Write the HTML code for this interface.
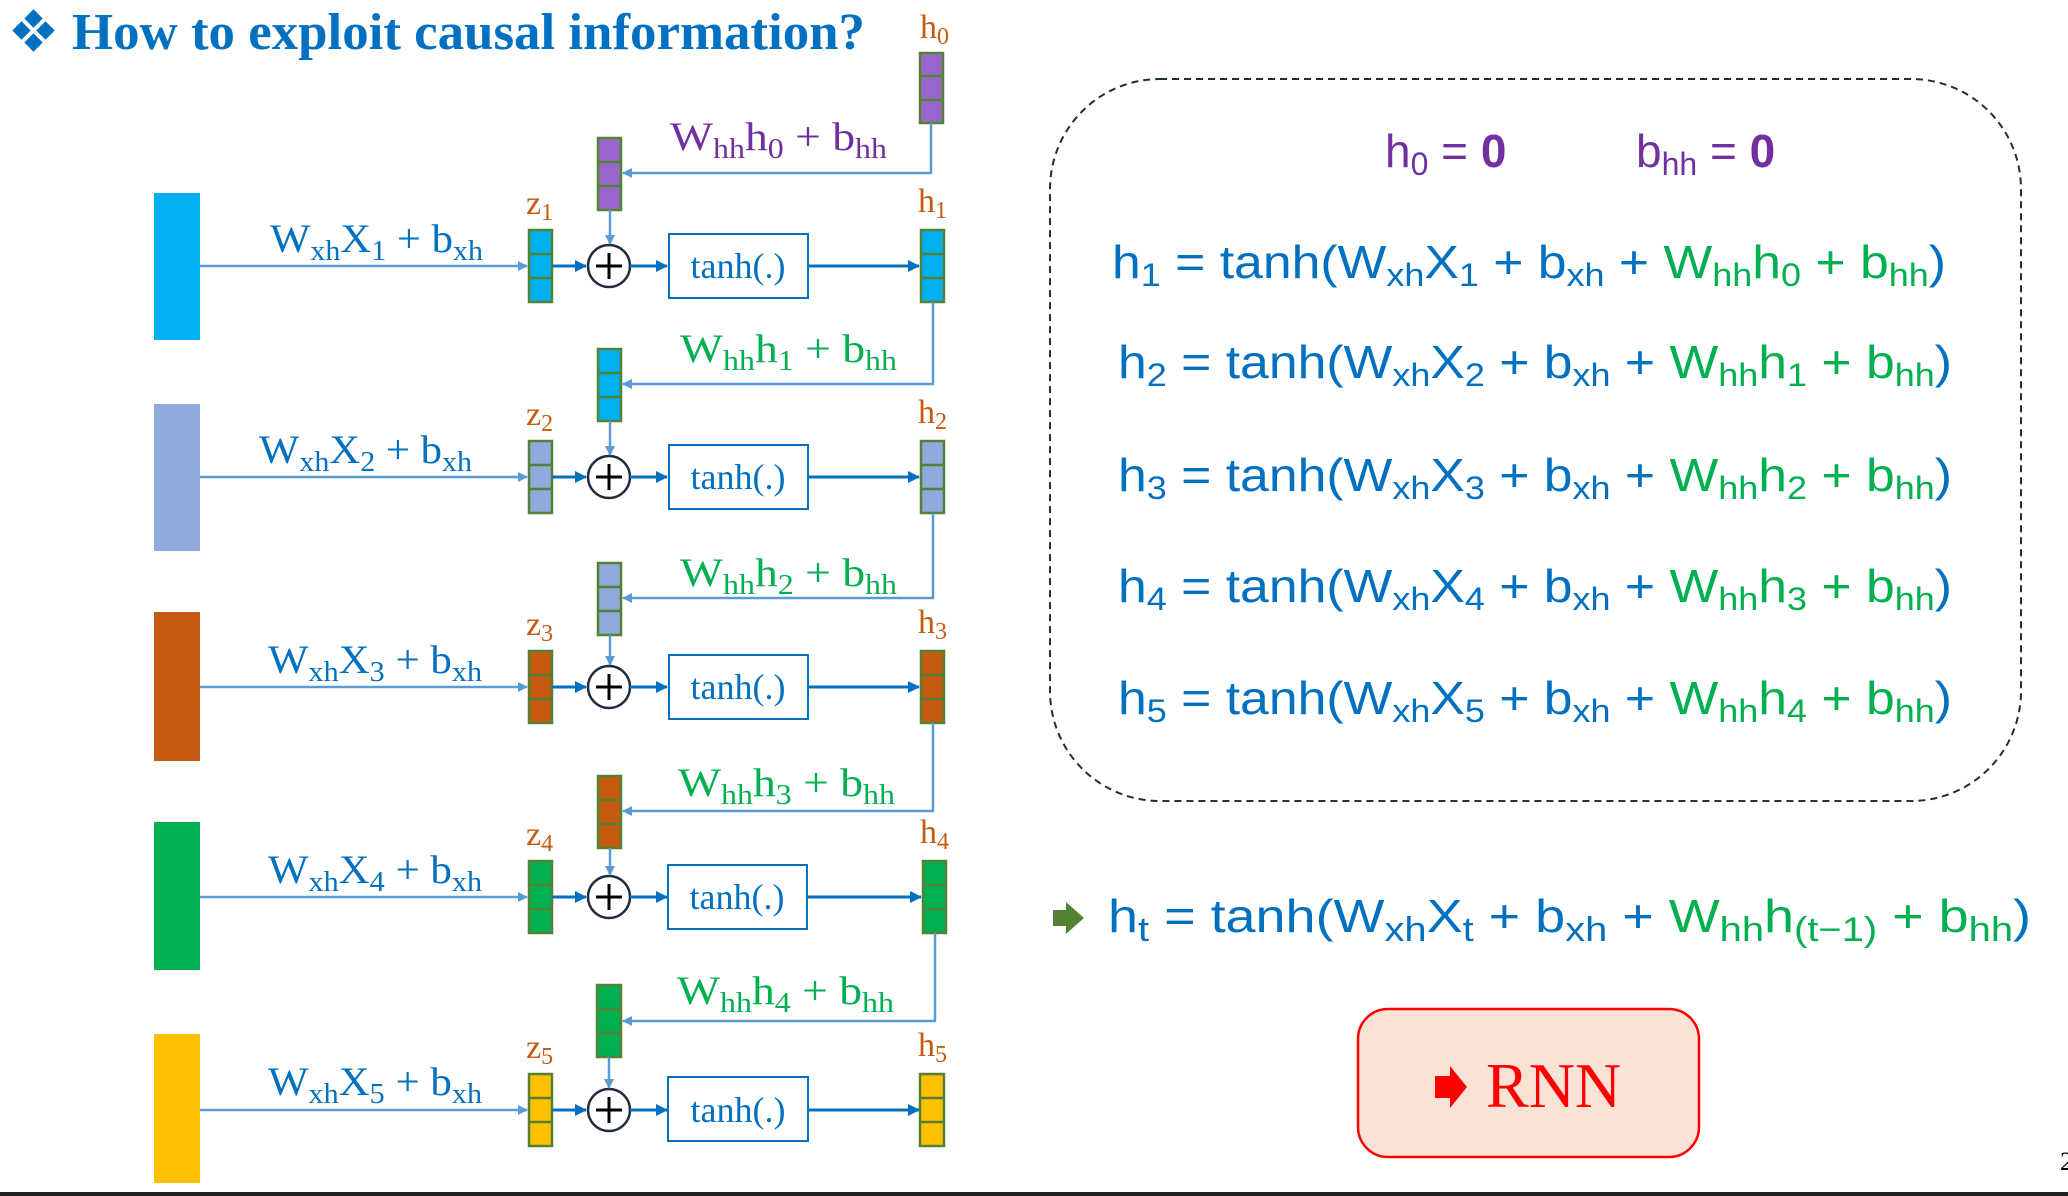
<!DOCTYPE html>
<html><head><meta charset="utf-8"><style>
html,body{margin:0;padding:0;background:#fff;}
svg{display:block;}
text{font-family:"Liberation Serif",serif;}
.eq{font-family:"Liberation Sans",sans-serif;font-size:46px;}
</style></head><body>
<svg width="2068" height="1196" viewBox="0 0 2068 1196" xmlns="http://www.w3.org/2000/svg">
<defs>
<marker id="al" markerWidth="10" markerHeight="10" refX="9" refY="5" orient="auto" markerUnits="userSpaceOnUse"><path d="M0,0 L10,5 L0,10 z" fill="#5b9bd5"/></marker>
<marker id="ad" markerWidth="12" markerHeight="12" refX="11" refY="6" orient="auto" markerUnits="userSpaceOnUse"><path d="M0,0 L12,6 L0,12 z" fill="#0070c0"/></marker>
</defs>

<!-- Title -->
<g fill="#0070c0">
<rect x="27" y="12" width="13" height="13" transform="rotate(45 33.5 18.5)"/>
<rect x="15" y="24" width="13" height="13" transform="rotate(45 21.5 30.5)"/>
<rect x="39" y="24" width="13" height="13" transform="rotate(45 45.5 30.5)"/>
<rect x="27" y="36" width="13" height="13" transform="rotate(45 33.5 42.5)"/>
</g>
<text x="72" y="49" font-size="52" font-weight="bold" fill="#0070c0" textLength="793" lengthAdjust="spacingAndGlyphs">How to exploit causal information?</text>

<!-- h0 -->
<text x="920" y="38" font-size="34" fill="#c55a11">h<tspan font-size="24" dy="6">0</tspan></text>
<g stroke="#548235" stroke-width="2.5" fill="#9966cc">
<rect x="920" y="53" width="23" height="70"/><line x1="920" y1="76" x2="943" y2="76"/><line x1="920" y1="100" x2="943" y2="100"/>
</g>

<!-- Row 1 Y=266 -->
<g>
<rect x="154" y="193" width="46" height="147" fill="#00b0f0"/>
<line x1="200" y1="266" x2="527" y2="266" stroke="#5b9bd5" stroke-width="2.5" marker-end="url(#al)"/>
<text x="270" y="252" font-size="40" fill="#0070c0" textLength="213" lengthAdjust="spacingAndGlyphs">W<tspan font-size="28" dy="8">xh</tspan><tspan dy="-8">X</tspan><tspan font-size="28" dy="8">1</tspan><tspan dy="-8"> + b</tspan><tspan font-size="28" dy="8">xh</tspan></text>
<text x="526" y="214" font-size="34" fill="#c55a11">z<tspan font-size="24" dy="6">1</tspan></text>
<g stroke="#548235" stroke-width="2.5" fill="#00b0f0"><rect x="529" y="230" width="23" height="72"/><line x1="529" y1="254" x2="552" y2="254"/><line x1="529" y1="278" x2="552" y2="278"/></g>
<line x1="552" y1="266" x2="586" y2="266" stroke="#0070c0" stroke-width="3" marker-end="url(#ad)"/>
<circle cx="609" cy="266" r="21" fill="#fff" stroke="#1f2d3d" stroke-width="2.5"/>
<path d="M596,266 H622 M609,253 V279" stroke="#000" stroke-width="3"/>
<line x1="630" y1="266" x2="667" y2="266" stroke="#0070c0" stroke-width="3" marker-end="url(#ad)"/>
<rect x="669" y="234" width="139" height="64" fill="#fff" stroke="#0070c0" stroke-width="2"/>
<text x="738" y="278" font-size="36" fill="#0070c0" text-anchor="middle">tanh(.)</text>
<line x1="808" y1="266" x2="919" y2="266" stroke="#0070c0" stroke-width="3" marker-end="url(#ad)"/>
<text x="918" y="212" font-size="34" fill="#c55a11">h<tspan font-size="24" dy="6">1</tspan></text>
<g stroke="#548235" stroke-width="2.5" fill="#00b0f0"><rect x="921" y="230" width="23" height="72"/><line x1="921" y1="254" x2="944" y2="254"/><line x1="921" y1="278" x2="944" y2="278"/></g>
<g stroke="#548235" stroke-width="2.5" fill="#9966cc"><rect x="598" y="138" width="23" height="72"/><line x1="598" y1="162" x2="621" y2="162"/><line x1="598" y1="186" x2="621" y2="186"/></g>
<line x1="610" y1="210" x2="610" y2="244" stroke="#5b9bd5" stroke-width="2.5" marker-end="url(#al)"/>
<polyline points="931,123 931,173 623,173" fill="none" stroke="#5b9bd5" stroke-width="2.5" marker-end="url(#al)"/>
<text x="670" y="150" font-size="40" fill="#7030a0" textLength="217" lengthAdjust="spacingAndGlyphs">W<tspan font-size="28" dy="8">hh</tspan><tspan dy="-8">h</tspan><tspan font-size="28" dy="8">0</tspan><tspan dy="-8"> + b</tspan><tspan font-size="28" dy="8">hh</tspan></text>
</g>

<!-- Row 2 Y=477 -->
<g>
<rect x="154" y="404" width="46" height="147" fill="#8faadc"/>
<line x1="200" y1="477" x2="527" y2="477" stroke="#5b9bd5" stroke-width="2.5" marker-end="url(#al)"/>
<text x="259" y="463" font-size="40" fill="#0070c0" textLength="213" lengthAdjust="spacingAndGlyphs">W<tspan font-size="28" dy="8">xh</tspan><tspan dy="-8">X</tspan><tspan font-size="28" dy="8">2</tspan><tspan dy="-8"> + b</tspan><tspan font-size="28" dy="8">xh</tspan></text>
<text x="526" y="425" font-size="34" fill="#c55a11">z<tspan font-size="24" dy="6">2</tspan></text>
<g stroke="#548235" stroke-width="2.5" fill="#8faadc"><rect x="529" y="441" width="23" height="72"/><line x1="529" y1="465" x2="552" y2="465"/><line x1="529" y1="489" x2="552" y2="489"/></g>
<line x1="552" y1="477" x2="586" y2="477" stroke="#0070c0" stroke-width="3" marker-end="url(#ad)"/>
<circle cx="609" cy="477" r="21" fill="#fff" stroke="#1f2d3d" stroke-width="2.5"/>
<path d="M596,477 H622 M609,464 V490" stroke="#000" stroke-width="3"/>
<line x1="630" y1="477" x2="667" y2="477" stroke="#0070c0" stroke-width="3" marker-end="url(#ad)"/>
<rect x="669" y="445" width="139" height="64" fill="#fff" stroke="#0070c0" stroke-width="2"/>
<text x="738" y="489" font-size="36" fill="#0070c0" text-anchor="middle">tanh(.)</text>
<line x1="808" y1="477" x2="919" y2="477" stroke="#0070c0" stroke-width="3" marker-end="url(#ad)"/>
<text x="918" y="423" font-size="34" fill="#c55a11">h<tspan font-size="24" dy="6">2</tspan></text>
<g stroke="#548235" stroke-width="2.5" fill="#8faadc"><rect x="921" y="441" width="23" height="72"/><line x1="921" y1="465" x2="944" y2="465"/><line x1="921" y1="489" x2="944" y2="489"/></g>
<g stroke="#548235" stroke-width="2.5" fill="#00b0f0"><rect x="598" y="349" width="23" height="72"/><line x1="598" y1="373" x2="621" y2="373"/><line x1="598" y1="397" x2="621" y2="397"/></g>
<line x1="610" y1="421" x2="610" y2="455" stroke="#5b9bd5" stroke-width="2.5" marker-end="url(#al)"/>
<polyline points="933,302 933,384 623,384" fill="none" stroke="#5b9bd5" stroke-width="2.5" marker-end="url(#al)"/>
<text x="680" y="362" font-size="40" fill="#00b050" textLength="217" lengthAdjust="spacingAndGlyphs">W<tspan font-size="28" dy="8">hh</tspan><tspan dy="-8">h</tspan><tspan font-size="28" dy="8">1</tspan><tspan dy="-8"> + b</tspan><tspan font-size="28" dy="8">hh</tspan></text>
</g>

<!-- Row 3 Y=687 -->
<g>
<rect x="154" y="612" width="46" height="149" fill="#c55a11"/>
<line x1="200" y1="687" x2="527" y2="687" stroke="#5b9bd5" stroke-width="2.5" marker-end="url(#al)"/>
<text x="268" y="673" font-size="40" fill="#0070c0" textLength="214" lengthAdjust="spacingAndGlyphs">W<tspan font-size="28" dy="8">xh</tspan><tspan dy="-8">X</tspan><tspan font-size="28" dy="8">3</tspan><tspan dy="-8"> + b</tspan><tspan font-size="28" dy="8">xh</tspan></text>
<text x="526" y="635" font-size="34" fill="#c55a11">z<tspan font-size="24" dy="6">3</tspan></text>
<g stroke="#548235" stroke-width="2.5" fill="#c55a11"><rect x="529" y="651" width="23" height="72"/><line x1="529" y1="675" x2="552" y2="675"/><line x1="529" y1="699" x2="552" y2="699"/></g>
<line x1="552" y1="687" x2="586" y2="687" stroke="#0070c0" stroke-width="3" marker-end="url(#ad)"/>
<circle cx="609" cy="687" r="21" fill="#fff" stroke="#1f2d3d" stroke-width="2.5"/>
<path d="M596,687 H622 M609,674 V700" stroke="#000" stroke-width="3"/>
<line x1="630" y1="687" x2="667" y2="687" stroke="#0070c0" stroke-width="3" marker-end="url(#ad)"/>
<rect x="669" y="655" width="139" height="64" fill="#fff" stroke="#0070c0" stroke-width="2"/>
<text x="738" y="699" font-size="36" fill="#0070c0" text-anchor="middle">tanh(.)</text>
<line x1="808" y1="687" x2="919" y2="687" stroke="#0070c0" stroke-width="3" marker-end="url(#ad)"/>
<text x="918" y="633" font-size="34" fill="#c55a11">h<tspan font-size="24" dy="6">3</tspan></text>
<g stroke="#548235" stroke-width="2.5" fill="#c55a11"><rect x="921" y="651" width="23" height="72"/><line x1="921" y1="675" x2="944" y2="675"/><line x1="921" y1="699" x2="944" y2="699"/></g>
<g stroke="#548235" stroke-width="2.5" fill="#8faadc"><rect x="598" y="563" width="23" height="72"/><line x1="598" y1="587" x2="621" y2="587"/><line x1="598" y1="611" x2="621" y2="611"/></g>
<line x1="610" y1="635" x2="610" y2="665" stroke="#5b9bd5" stroke-width="2.5" marker-end="url(#al)"/>
<polyline points="933,513 933,598 623,598" fill="none" stroke="#5b9bd5" stroke-width="2.5" marker-end="url(#al)"/>
<text x="680" y="586" font-size="40" fill="#00b050" textLength="217" lengthAdjust="spacingAndGlyphs">W<tspan font-size="28" dy="8">hh</tspan><tspan dy="-8">h</tspan><tspan font-size="28" dy="8">2</tspan><tspan dy="-8"> + b</tspan><tspan font-size="28" dy="8">hh</tspan></text>
</g>

<!-- Row 4 Y=897 -->
<g>
<rect x="154" y="822" width="46" height="148" fill="#00b050"/>
<line x1="200" y1="897" x2="527" y2="897" stroke="#5b9bd5" stroke-width="2.5" marker-end="url(#al)"/>
<text x="268" y="883" font-size="40" fill="#0070c0" textLength="214" lengthAdjust="spacingAndGlyphs">W<tspan font-size="28" dy="8">xh</tspan><tspan dy="-8">X</tspan><tspan font-size="28" dy="8">4</tspan><tspan dy="-8"> + b</tspan><tspan font-size="28" dy="8">xh</tspan></text>
<text x="526" y="845" font-size="34" fill="#c55a11">z<tspan font-size="24" dy="6">4</tspan></text>
<g stroke="#548235" stroke-width="2.5" fill="#00b050"><rect x="529" y="861" width="23" height="72"/><line x1="529" y1="885" x2="552" y2="885"/><line x1="529" y1="909" x2="552" y2="909"/></g>
<line x1="552" y1="897" x2="586" y2="897" stroke="#0070c0" stroke-width="3" marker-end="url(#ad)"/>
<circle cx="609" cy="897" r="21" fill="#fff" stroke="#1f2d3d" stroke-width="2.5"/>
<path d="M596,897 H622 M609,884 V910" stroke="#000" stroke-width="3"/>
<line x1="630" y1="897" x2="667" y2="897" stroke="#0070c0" stroke-width="3" marker-end="url(#ad)"/>
<rect x="668" y="865" width="139" height="64" fill="#fff" stroke="#0070c0" stroke-width="2"/>
<text x="737" y="909" font-size="36" fill="#0070c0" text-anchor="middle">tanh(.)</text>
<line x1="807" y1="897" x2="921" y2="897" stroke="#0070c0" stroke-width="3" marker-end="url(#ad)"/>
<text x="920" y="843" font-size="34" fill="#c55a11">h<tspan font-size="24" dy="6">4</tspan></text>
<g stroke="#548235" stroke-width="2.5" fill="#00b050"><rect x="923" y="861" width="23" height="72"/><line x1="923" y1="885" x2="946" y2="885"/><line x1="923" y1="909" x2="946" y2="909"/></g>
<g stroke="#548235" stroke-width="2.5" fill="#c55a11"><rect x="598" y="776" width="23" height="72"/><line x1="598" y1="800" x2="621" y2="800"/><line x1="598" y1="824" x2="621" y2="824"/></g>
<line x1="610" y1="848" x2="610" y2="875" stroke="#5b9bd5" stroke-width="2.5" marker-end="url(#al)"/>
<polyline points="933,723 933,811 623,811" fill="none" stroke="#5b9bd5" stroke-width="2.5" marker-end="url(#al)"/>
<text x="678" y="796" font-size="40" fill="#00b050" textLength="217" lengthAdjust="spacingAndGlyphs">W<tspan font-size="28" dy="8">hh</tspan><tspan dy="-8">h</tspan><tspan font-size="28" dy="8">3</tspan><tspan dy="-8"> + b</tspan><tspan font-size="28" dy="8">hh</tspan></text>
</g>

<!-- Row 5 Y=1110 -->
<g>
<rect x="154" y="1034" width="46" height="149" fill="#ffc000"/>
<line x1="200" y1="1110" x2="527" y2="1110" stroke="#5b9bd5" stroke-width="2.5" marker-end="url(#al)"/>
<text x="268" y="1095" font-size="40" fill="#0070c0" textLength="214" lengthAdjust="spacingAndGlyphs">W<tspan font-size="28" dy="8">xh</tspan><tspan dy="-8">X</tspan><tspan font-size="28" dy="8">5</tspan><tspan dy="-8"> + b</tspan><tspan font-size="28" dy="8">xh</tspan></text>
<text x="526" y="1058" font-size="34" fill="#c55a11">z<tspan font-size="24" dy="6">5</tspan></text>
<g stroke="#548235" stroke-width="2.5" fill="#ffc000"><rect x="529" y="1074" width="23" height="72"/><line x1="529" y1="1098" x2="552" y2="1098"/><line x1="529" y1="1122" x2="552" y2="1122"/></g>
<line x1="552" y1="1110" x2="586" y2="1110" stroke="#0070c0" stroke-width="3" marker-end="url(#ad)"/>
<circle cx="609" cy="1110" r="21" fill="#fff" stroke="#1f2d3d" stroke-width="2.5"/>
<path d="M596,1110 H622 M609,1097 V1123" stroke="#000" stroke-width="3"/>
<line x1="630" y1="1110" x2="667" y2="1110" stroke="#0070c0" stroke-width="3" marker-end="url(#ad)"/>
<rect x="668" y="1077" width="140" height="64" fill="#fff" stroke="#0070c0" stroke-width="2"/>
<text x="738" y="1122" font-size="36" fill="#0070c0" text-anchor="middle">tanh(.)</text>
<line x1="808" y1="1110" x2="919" y2="1110" stroke="#0070c0" stroke-width="3" marker-end="url(#ad)"/>
<text x="918" y="1056" font-size="34" fill="#c55a11">h<tspan font-size="24" dy="6">5</tspan></text>
<g stroke="#548235" stroke-width="2.5" fill="#ffc000"><rect x="920" y="1074" width="24" height="72"/><line x1="920" y1="1098" x2="944" y2="1098"/><line x1="920" y1="1122" x2="944" y2="1122"/></g>
<g stroke="#548235" stroke-width="2.5" fill="#00b050"><rect x="597" y="985" width="24" height="72"/><line x1="597" y1="1009" x2="621" y2="1009"/><line x1="597" y1="1033" x2="621" y2="1033"/></g>
<line x1="609" y1="1057" x2="609" y2="1088" stroke="#5b9bd5" stroke-width="2.5" marker-end="url(#al)"/>
<polyline points="935,933 935,1021 623,1021" fill="none" stroke="#5b9bd5" stroke-width="2.5" marker-end="url(#al)"/>
<text x="677" y="1004" font-size="40" fill="#00b050" textLength="217" lengthAdjust="spacingAndGlyphs">W<tspan font-size="28" dy="8">hh</tspan><tspan dy="-8">h</tspan><tspan font-size="28" dy="8">4</tspan><tspan dy="-8"> + b</tspan><tspan font-size="28" dy="8">hh</tspan></text>
</g>

<!-- Dashed box -->
<rect x="1050" y="79" width="971" height="722" rx="110" ry="110" fill="none" stroke="#1f2d3d" stroke-width="2" stroke-dasharray="7,5"/>

<g class="eq" fill="#7030a0">
<text x="1385" y="167" class="eq">h<tspan font-size="32" dy="8">0</tspan><tspan dy="-8"> = </tspan><tspan font-weight="bold">0</tspan></text>
<text x="1636" y="167" class="eq">b<tspan font-size="32" dy="8">hh</tspan><tspan dy="-8"> = </tspan><tspan font-weight="bold">0</tspan></text>
</g>

<g class="eq" fill="#0070c0">
<text x="1112" y="278" class="eq" textLength="834" lengthAdjust="spacingAndGlyphs">h<tspan font-size="32" dy="8">1</tspan><tspan dy="-8"> = tanh(W</tspan><tspan font-size="32" dy="8">xh</tspan><tspan dy="-8">X</tspan><tspan font-size="32" dy="8">1</tspan><tspan dy="-8"> + b</tspan><tspan font-size="32" dy="8">xh</tspan><tspan dy="-8"> + </tspan><tspan fill="#00b050">W</tspan><tspan fill="#00b050" font-size="32" dy="8">hh</tspan><tspan fill="#00b050" dy="-8">h</tspan><tspan fill="#00b050" font-size="32" dy="8">0</tspan><tspan fill="#00b050" dy="-8"> + b</tspan><tspan fill="#00b050" font-size="32" dy="8">hh</tspan><tspan dy="-8">)</tspan></text>
<text x="1118" y="378" class="eq" textLength="834" lengthAdjust="spacingAndGlyphs">h<tspan font-size="32" dy="8">2</tspan><tspan dy="-8"> = tanh(W</tspan><tspan font-size="32" dy="8">xh</tspan><tspan dy="-8">X</tspan><tspan font-size="32" dy="8">2</tspan><tspan dy="-8"> + b</tspan><tspan font-size="32" dy="8">xh</tspan><tspan dy="-8"> + </tspan><tspan fill="#00b050">W</tspan><tspan fill="#00b050" font-size="32" dy="8">hh</tspan><tspan fill="#00b050" dy="-8">h</tspan><tspan fill="#00b050" font-size="32" dy="8">1</tspan><tspan fill="#00b050" dy="-8"> + b</tspan><tspan fill="#00b050" font-size="32" dy="8">hh</tspan><tspan dy="-8">)</tspan></text>
<text x="1118" y="491" class="eq" textLength="834" lengthAdjust="spacingAndGlyphs">h<tspan font-size="32" dy="8">3</tspan><tspan dy="-8"> = tanh(W</tspan><tspan font-size="32" dy="8">xh</tspan><tspan dy="-8">X</tspan><tspan font-size="32" dy="8">3</tspan><tspan dy="-8"> + b</tspan><tspan font-size="32" dy="8">xh</tspan><tspan dy="-8"> + </tspan><tspan fill="#00b050">W</tspan><tspan fill="#00b050" font-size="32" dy="8">hh</tspan><tspan fill="#00b050" dy="-8">h</tspan><tspan fill="#00b050" font-size="32" dy="8">2</tspan><tspan fill="#00b050" dy="-8"> + b</tspan><tspan fill="#00b050" font-size="32" dy="8">hh</tspan><tspan dy="-8">)</tspan></text>
<text x="1118" y="602" class="eq" textLength="834" lengthAdjust="spacingAndGlyphs">h<tspan font-size="32" dy="8">4</tspan><tspan dy="-8"> = tanh(W</tspan><tspan font-size="32" dy="8">xh</tspan><tspan dy="-8">X</tspan><tspan font-size="32" dy="8">4</tspan><tspan dy="-8"> + b</tspan><tspan font-size="32" dy="8">xh</tspan><tspan dy="-8"> + </tspan><tspan fill="#00b050">W</tspan><tspan fill="#00b050" font-size="32" dy="8">hh</tspan><tspan fill="#00b050" dy="-8">h</tspan><tspan fill="#00b050" font-size="32" dy="8">3</tspan><tspan fill="#00b050" dy="-8"> + b</tspan><tspan fill="#00b050" font-size="32" dy="8">hh</tspan><tspan dy="-8">)</tspan></text>
<text x="1118" y="714" class="eq" textLength="834" lengthAdjust="spacingAndGlyphs">h<tspan font-size="32" dy="8">5</tspan><tspan dy="-8"> = tanh(W</tspan><tspan font-size="32" dy="8">xh</tspan><tspan dy="-8">X</tspan><tspan font-size="32" dy="8">5</tspan><tspan dy="-8"> + b</tspan><tspan font-size="32" dy="8">xh</tspan><tspan dy="-8"> + </tspan><tspan fill="#00b050">W</tspan><tspan fill="#00b050" font-size="32" dy="8">hh</tspan><tspan fill="#00b050" dy="-8">h</tspan><tspan fill="#00b050" font-size="32" dy="8">4</tspan><tspan fill="#00b050" dy="-8"> + b</tspan><tspan fill="#00b050" font-size="32" dy="8">hh</tspan><tspan dy="-8">)</tspan></text>
</g>

<!-- General equation -->
<path d="M1053,910 H1066 V902 L1084,918 L1066,934 V926 H1053 z" fill="#548235"/>
<text x="1108" y="932" class="eq" font-size="50" fill="#0070c0" textLength="923" lengthAdjust="spacingAndGlyphs">h<tspan font-size="34" dy="9">t</tspan><tspan dy="-9"> = tanh(W</tspan><tspan font-size="34" dy="9">xh</tspan><tspan dy="-9">X</tspan><tspan font-size="34" dy="9">t</tspan><tspan dy="-9"> + b</tspan><tspan font-size="34" dy="9">xh</tspan><tspan dy="-9"> + </tspan><tspan fill="#00b050">W</tspan><tspan fill="#00b050" font-size="34" dy="9">hh</tspan><tspan fill="#00b050" dy="-9">h</tspan><tspan fill="#00b050" font-size="34" dy="9">(t−1)</tspan><tspan fill="#00b050" dy="-9"> + b</tspan><tspan fill="#00b050" font-size="34" dy="9">hh</tspan><tspan dy="-9">)</tspan></text>

<!-- RNN box -->
<rect x="1358" y="1009" width="341" height="148" rx="30" ry="30" fill="#fae3d6" stroke="#ff0000" stroke-width="2.5"/>
<path d="M1435,1076 H1450 V1066 L1467,1087 L1450,1108 V1098 H1435 z" fill="#ff0000"/>
<text x="1486" y="1107" font-size="64" fill="#ff0000">RNN</text>

<!-- Bottom line & edge char -->
<rect x="0" y="1192" width="2068" height="4" fill="#222"/>
<text x="2060" y="1170" font-size="26" fill="#000">2</text>
</svg>
</body></html>
